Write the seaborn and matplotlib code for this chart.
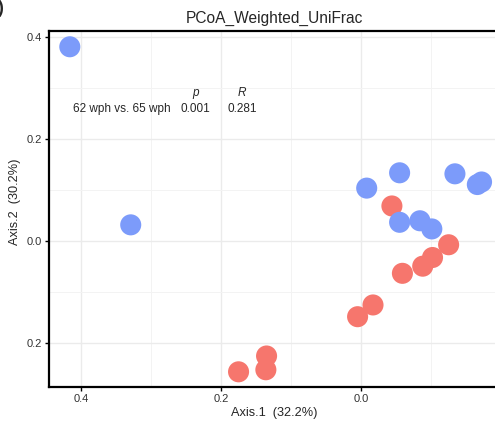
import matplotlib
matplotlib.use("Agg")
import matplotlib.pyplot as plt
from matplotlib.ticker import MultipleLocator
import seaborn as sns
import pandas as pd

# PCoA coordinates
axis1_65 = [-0.416, -0.329, 0.008, 0.055, 0.134, 0.166, 0.172, 0.055, 0.084, 0.101]
axis2_65 = [0.380, 0.031, 0.103, 0.133, 0.131, 0.110, 0.115, 0.036, 0.039, 0.023]
axis1_62 = [0.044, 0.125, 0.102, 0.088, 0.059, 0.017, -0.005, -0.135, -0.136, -0.175]
axis2_62 = [0.068, -0.008, -0.033, -0.050, -0.064, -0.126, -0.149, -0.226, -0.253, -0.257]
groups = ["62 wph", "65 wph"]
colors = {"62 wph": "#F6766D", "65 wph": "#7C9BFA"}

x_ticks = [-0.4, -0.2, 0.0]
x_ticklabels = ["0.4", "0.2", "0.0"]
y_ticks = [0.4, 0.2, 0.0, -0.2]
y_ticklabels = ["0.4", "0.2", "0.0", "0.2"]

df = pd.DataFrame({
    "Axis.1": axis1_62 + axis1_65,
    "Axis.2": axis2_62 + axis2_65,
    "group": [groups[0]] * len(axis1_62) + [groups[1]] * len(axis1_65),
})

sns.set_style("white")
plt.rcParams["font.family"] = ["Liberation Sans", "DejaVu Sans"]

fig = plt.figure(figsize=(4.95, 4.24), dpi=100)
ax = fig.add_axes([0.099, 0.087, 0.912, 0.840])

sns.scatterplot(data=df, x="Axis.1", y="Axis.2", hue="group", palette=colors,
                s=230, edgecolor="none", legend=False, ax=ax, zorder=3)

ax.set_xlim(-0.4457, 0.199)
ax.set_ylim(-0.287, 0.411)

ax.set_xticks(x_ticks)
ax.set_xticklabels(x_ticklabels)
ax.set_yticks(y_ticks)
ax.set_yticklabels(y_ticklabels)
ax.xaxis.set_minor_locator(MultipleLocator(0.1))
ax.yaxis.set_minor_locator(MultipleLocator(0.1))
ax.grid(which="major", color="#EBEBEB", linewidth=1.0, zorder=0)
ax.grid(which="minor", color="#F3F3F3", linewidth=0.7, zorder=0)
ax.set_axisbelow(True)

ax.tick_params(axis="both", which="major", direction="out", length=3, width=1,
               color="black", labelsize=8, labelcolor="#333333", pad=2,
               bottom=True, left=True)
ax.tick_params(axis="both", which="minor", length=0)

for side in ["left", "bottom", "top", "right"]:
    ax.spines[side].set_color("black")
    ax.spines[side].set_linewidth(1.6)

ax.set_xlabel("Axis.1  (32.2%)", fontsize=9.2, labelpad=2)
ax.set_ylabel("Axis.2  (30.2%)", fontsize=9.2)
ax.yaxis.set_label_coords(-0.063, 0.52)
ax.set_title("PCoA_Weighted_UniFrac", fontsize=11.2, pad=6)

# test statistics annotation
ax.text(-0.237, 0.290, "p", style="italic", fontsize=8.5, ha="center", va="center")
ax.text(-0.170, 0.290, "R", style="italic", fontsize=8.5, ha="center", va="center")
ax.text(-0.411, 0.258, "62 wph vs. 65 wph", fontsize=8.5, ha="left", va="center")
ax.text(-0.237, 0.258, "0.001", fontsize=8.5, ha="center", va="center")
ax.text(-0.170, 0.258, "0.281", fontsize=8.5, ha="center", va="center")

# cut-off panel label
fig.text(-0.006, 1.0, ")", fontsize=13, fontweight="bold", ha="left", va="top")

fig.savefig("out.png", dpi=100)
